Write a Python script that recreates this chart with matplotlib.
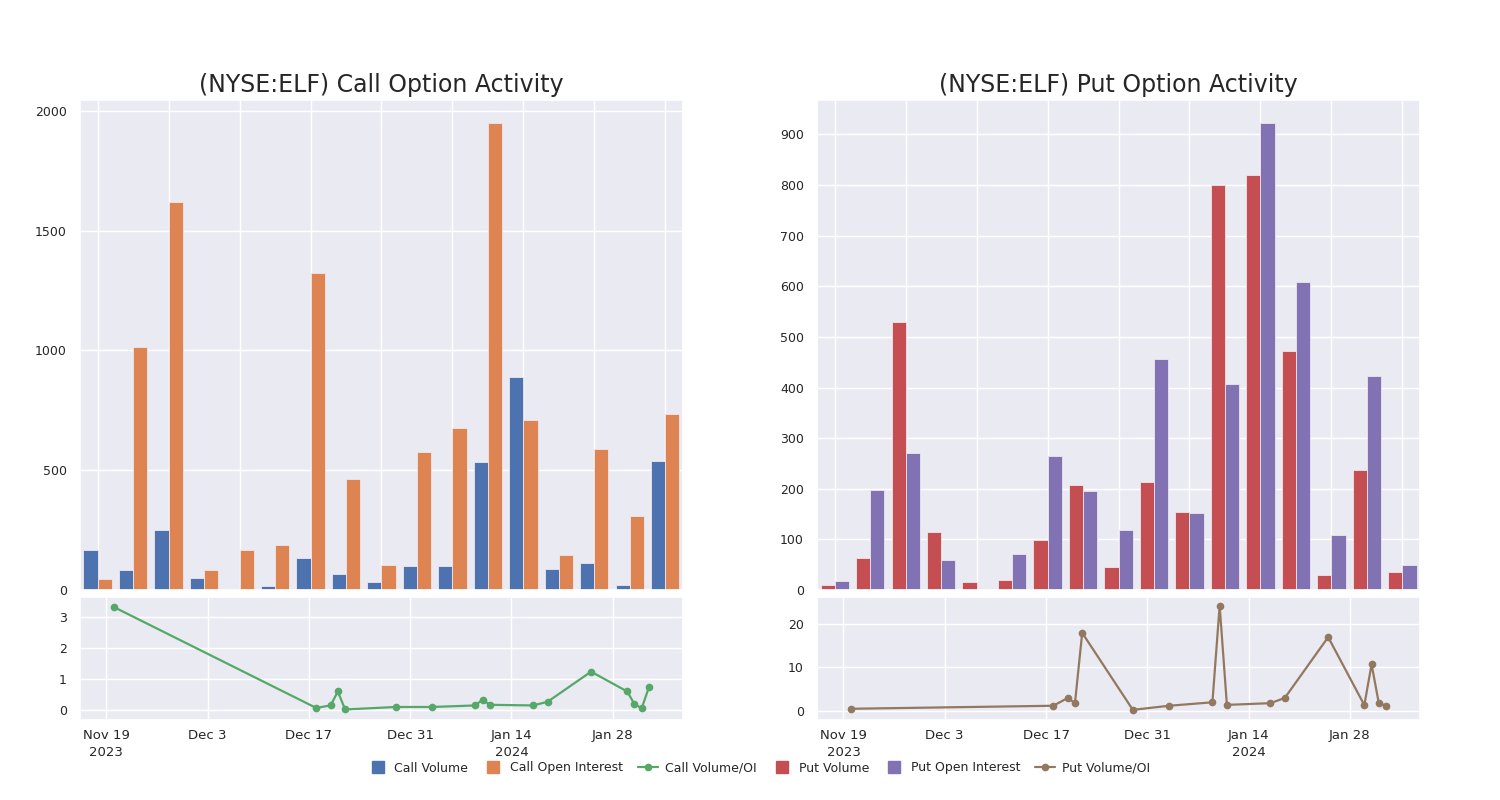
import matplotlib
matplotlib.use("Agg")
import matplotlib.pyplot as plt
import matplotlib.dates as mdates
from matplotlib.lines import Line2D
from matplotlib.ticker import MultipleLocator
import seaborn as sns
import numpy as np
from datetime import datetime

sns.set_theme(style="darkgrid", palette="deep")
plt.rcParams['font.family'] = ['DejaVu Sans']

# bar groups (one per trading day with activity)
call_volume = [168, 84, 251, 50, 3, 17, 134, 68, 35, 101, 99, 536, 889, 88, 113, 21, 539]
call_oi = [47, 1015, 1620, 85, 165, 186, 1325, 462, 105, 574, 678, 1948, 711, 147, 590, 309, 736]
put_volume = [9, 63, 530, 114, 16, 20, 99, 207, 46, 213, 154, 800, 820, 472, 30, 237, 35]
put_oi = [18, 197, 271, 60, 1, 71, 265, 195, 119, 456, 153, 407, 922, 608, 109, 423, 49]

# volume / open interest ratio lines
ratio_dates = ["2023-11-20", "2023-12-18", "2023-12-20", "2023-12-21", "2023-12-22",
               "2023-12-29", "2024-01-03", "2024-01-09", "2024-01-10", "2024-01-11",
               "2024-01-17", "2024-01-19", "2024-01-25", "2024-01-30", "2024-01-31",
               "2024-02-01", "2024-02-02"]
call_ratio = [3.33, 0.07, 0.15, 0.6, 0.02, 0.1, 0.1, 0.15, 0.34, 0.17, 0.15, 0.27,
              1.24, 0.6, 0.19, 0.06, 0.74]
put_ratio = [0.4, 1.1, 2.9, 1.7, 18.0, 0.15, 1.1, 1.9, 24.3, 1.3, 1.7, 2.9,
             17.0, 1.25, 10.7, 1.7, 1.1]

tick_dates = ["2023-11-19", "2023-12-03", "2023-12-17", "2023-12-31", "2024-01-14", "2024-01-28"]
tick_labels = ["Nov 19\n2023", "Dec 3", "Dec 17", "Dec 31", "Jan 14\n2024", "Jan 28"]

pal = sns.color_palette("deep")
blue, orange, green, red, purple, brown = pal[0], pal[1], pal[2], pal[3], pal[4], pal[5]

dates = [datetime.strptime(d, "%Y-%m-%d") for d in ratio_dates]
tdates = [datetime.strptime(d, "%Y-%m-%d") for d in tick_dates]
xlim_dates = (mdates.date2num(datetime(2023, 11, 15)) + 0.35,
              mdates.date2num(datetime(2024, 2, 6)) + 0.7)

fig = plt.figure(figsize=(15, 8), dpi=100)


def draw_panel(left, title, vol, oi, ratio, c1, c2, c3, ylim_line, ystep):
    ax_top = fig.add_axes([left, 0.2625, 0.402, 0.6125])
    ax_bot = fig.add_axes([left, 0.1, 0.402, 0.15375])

    x = np.arange(len(vol))
    w = 0.4
    ax_top.bar(x - w / 2, vol, width=w, color=c1, edgecolor="#f0e6ea", linewidth=0.6)
    ax_top.bar(x + w / 2, oi, width=w, color=c2, edgecolor="#f0e6ea", linewidth=0.6)
    ax_top.set_xlim(-0.5, len(vol) - 0.5)
    ax_top.yaxis.set_major_locator(MultipleLocator(ystep))
    ax_top.tick_params(axis="x", labelbottom=False)
    ax_top.tick_params(axis="y", labelsize=9)
    ax_top.set_title(title, fontsize=17)

    ax_bot.plot(dates, ratio, color=c3, marker="o", markersize=4.5, linewidth=1.6)
    ax_bot.set_xlim(*xlim_dates)
    ax_bot.set_ylim(*ylim_line)
    ax_bot.set_xticks(tdates)
    ax_bot.set_xticklabels(tick_labels, fontsize=9.5, linespacing=1.35)
    ax_bot.tick_params(axis="x", pad=0.5)
    ax_bot.tick_params(axis="y", labelsize=9)
    return ax_top, ax_bot


ct, cb = draw_panel(0.0533, "(NYSE:ELF) Call Option Activity", call_volume, call_oi, call_ratio,
                    blue, orange, green, (-0.32, 3.65), 500)
cb.set_yticks([0, 1, 2, 3])
pt, pb = draw_panel(0.5447, "(NYSE:ELF) Put Option Activity", put_volume, put_oi, put_ratio,
                    red, purple, brown, (-2.2, 26.3), 100)
pb.set_yticks([0, 10, 20])


def square(c):
    return Line2D([], [], linestyle="none", marker="s", markersize=9, color=c)


def dotline(c):
    return Line2D([], [], color=c, marker="o", markersize=4.5, linewidth=1.6)


handles = [square(blue), square(orange), dotline(green), square(red), square(purple), dotline(brown)]
labels = ["Call Volume", "Call Open Interest", "Call Volume/OI",
          "Put Volume", "Put Open Interest", "Put Volume/OI"]
fig.legend(handles, labels, loc="center", bbox_to_anchor=(0.506, 0.04), ncol=6,
           frameon=False, fontsize=9, handlelength=1.6, handletextpad=0.55, columnspacing=1.2)

fig.savefig("out.png", dpi=100)
